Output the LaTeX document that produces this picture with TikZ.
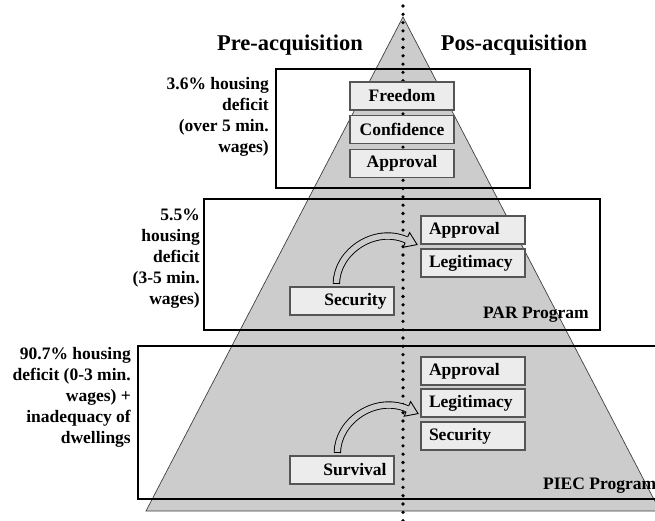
\documentclass[tikz,border=0pt]{standalone}
\usepackage{fontspec}
\setmainfont{Liberation Serif}
\usetikzlibrary{calc}
\definecolor{pyr}{RGB}{204,204,204}
\definecolor{boxfill}{RGB}{236,236,236}
\definecolor{boxline}{RGB}{85,85,85}
\begin{document}
\begin{tikzpicture}[x=1pt,y=-1pt,
  lbl/.style={font=\fontsize{17.5}{21}\selectfont\bfseries, inner sep=0pt},
  ttl/.style={font=\fontsize{22.5}{27}\selectfont\bfseries, inner sep=0pt},
  sbox/.style={draw=boxline, fill=boxfill, line width=1.2pt, minimum width=104pt,
    minimum height=28pt, inner sep=0pt, font=\fontsize{17.5}{21}\selectfont\bfseries},
  sboxL/.style={sbox, text width=88pt, inner xsep=8pt, align=left},
  sboxR/.style={sbox, text width=89pt, inner xsep=7pt, align=right},
  frame/.style={draw=black, line width=1.4pt},
  dotline/.style={line width=3.6pt, line cap=round, dash pattern=on 0pt off 8.3pt},
  curvarrow/.pic={
    \draw[line width=0.9pt, double=pyr, double distance=5.5pt]
      (0,0) .. controls (0,-32) and (38,-58) .. (70,-44);
    \fill[pyr] (73.21,-51.33) -- (80.7,-39.3) -- (66.79,-36.67) -- cycle;
    \draw[line width=0.9pt, line join=miter]
      (71.28,-46.93) -- (73.21,-51.33) -- (80.7,-39.3) -- (66.79,-36.67) -- (68.72,-41.07);
    \draw[line width=0.9pt] (-3.2,0) -- (3.2,0);
  }]
\useasboundingbox (0,0) rectangle (655,521);
\clip (0,0) rectangle (655,521);

% pyramid
\filldraw[fill=pyr, draw=black!75, line width=0.7pt] (403,17) -- (146,511) -- (660,511) -- cycle;

% dotted divider
\coordinate (dtop) at (403,6);
\coordinate (dbot) at (403,526);
\draw[dotline] (dtop) -- (dbot);

% frames
\draw[frame] (276,69) rectangle (530,188);
\draw[frame] (204,199) rectangle (600,330);
\draw[frame] (664,346) -- (138,346) -- (138,499) -- (664,499);

% titles
\node[ttl] (pre) at (290,45) {Pre-acquisition};
\node[ttl] (pos) at (514,45) {Pos-acquisition};

% left texts
\node[lbl, align=right, anchor=east] (t1) at (269,116.5) {3.6\% housing\\deficit\\(over 5 min.\\wages)};
\node[lbl, align=right, anchor=east] (t2) at (200,259) {5.5\%\\housing\\deficit\\(3-5 min.\\wages)};
\node[lbl, align=right, anchor=east] (t3) at (131,397.5) {90.7\% housing\\deficit (0-3 min.\\wages) +\\inadequacy of\\dwellings};

% top group
\node[sbox] (free) at (402,96) {Freedom};
\node[sbox] (conf) at (402,129.5) {Confidence};
\node[sbox] (appt) at (402,163.5) {Approval};

% middle group
\node[sboxL] (appm) at (473,230) {Approval};
\node[sboxL] (legm) at (473,263) {Legitimacy};
\node[sboxR] (secm) at (342,301) {Security};
\node[lbl, anchor=east] (par) at (589,315) {PAR Program};

% bottom group
\node[sboxL] (appb) at (473,371) {Approval};
\node[sboxL] (legb) at (473,403) {Legitimacy};
\node[sboxL] (secb) at (473,436) {Security};
\node[sboxR] (surv) at (342,470) {Survival};
\node[lbl, anchor=west] (piec) at (543,486) {PIEC Program};

% curved block arrows
\pic at ($(secm.north west)+(47,-2.5)$) {curvarrow};
\pic at ($(surv.north west)+(48,-2.5)$) {curvarrow};
\end{tikzpicture}
\end{document}
